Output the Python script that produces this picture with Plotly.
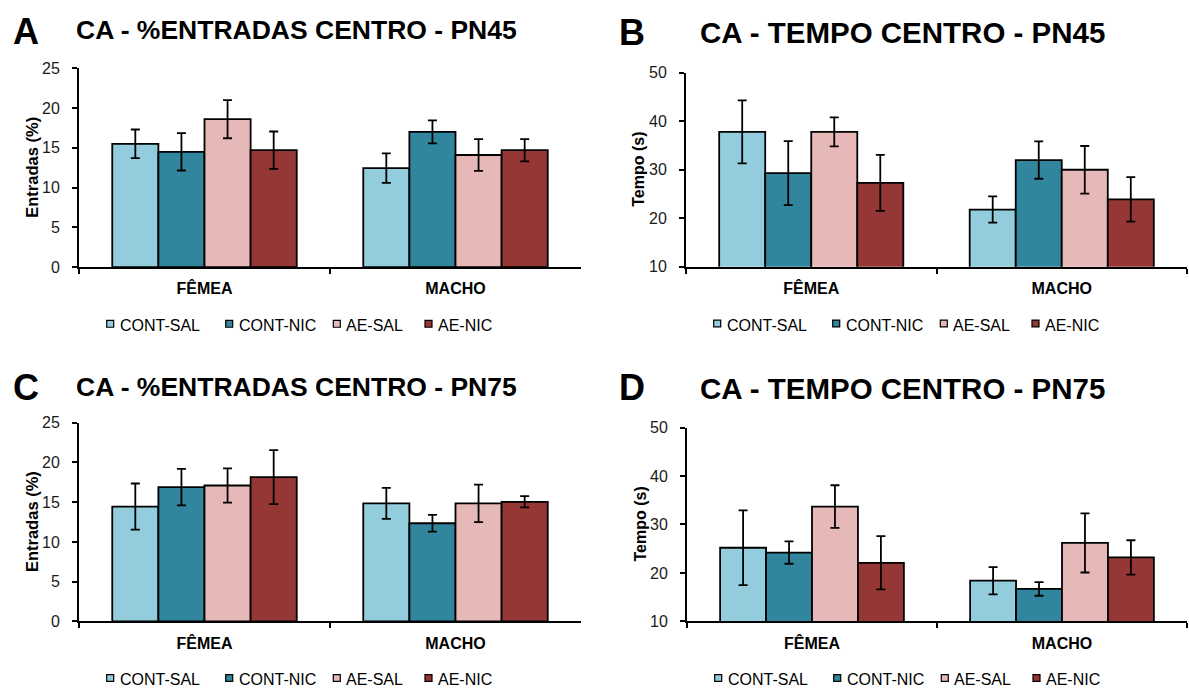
import plotly.graph_objects as go

W, H = 1189, 700
FONT = "Liberation Sans, Arial, sans-serif"

CATEGORIES = ["FÊMEA", "MACHO"]
SERIES = ["CONT-SAL", "CONT-NIC", "AE-SAL", "AE-NIC"]
COLORS = ["#93CDDD", "#31859C", "#E6B9B8", "#953735"]

# each row: one series, values for [FÊMEA, MACHO]
ENT45_MEAN = [[15.5, 12.45], [14.5, 17.0], [18.6, 14.1], [14.7, 14.7]]
ENT45_ERR = [[1.8, 1.85], [2.35, 1.45], [2.4, 2.0], [2.35, 1.4]]
TEMPO45_MEAN = [[37.8, 21.8], [29.3, 32.0], [37.8, 30.0], [27.3, 23.9]]
TEMPO45_ERR = [[6.5, 2.7], [6.6, 3.85], [3.0, 4.9], [5.75, 4.6]]
ENT75_MEAN = [[14.45, 14.85], [16.9, 12.35], [17.1, 14.85], [18.15, 15.05]]
ENT75_ERR = [[2.9, 1.95], [2.3, 1.05], [2.15, 2.35], [3.4, 0.7]]
TEMPO75_MEAN = [[25.2, 18.4], [24.2, 16.7], [33.7, 26.2], [22.1, 23.2]]
TEMPO75_ERR = [[7.7, 2.8], [2.3, 1.4], [4.4, 6.1], [5.5, 3.55]]

PANEL_LETTERS = ["A", "B", "C", "D"]
PANEL_TITLES = ["CA - %ENTRADAS CENTRO - PN45", "CA - TEMPO CENTRO - PN45",
                "CA - %ENTRADAS CENTRO - PN75", "CA - TEMPO CENTRO - PN75"]
Y_TITLES = ["Entradas (%)", "Tempo (s)", "Entradas (%)", "Tempo (s)"]
Y_RANGES = [[0, 25], [10, 50], [0, 25], [10, 50]]
Y_DTICKS = [5, 10, 5, 10]
MEANS = [ENT45_MEAN, TEMPO45_MEAN, ENT75_MEAN, TEMPO75_MEAN]
ERRS = [ENT45_ERR, TEMPO45_ERR, ENT75_ERR, TEMPO75_ERR]

# plot boxes in pixels: left, right, top, bottom
BOXES = [(79, 581, 61.7, 265.7), (686, 1187, 66.3, 265.3),
         (79, 581, 425, 628.7), (687, 1187, 430, 628.7)]
LETTER_POS = [(25.8, 23.7), (632, 25), (26, 388.5), (632, 388.5)]
TITLE_POS = [(74.4, 22.5, 26.5), (698, 25.5, 29.5), (74.4, 388.5, 26.5), (698, 389.5, 29.5)]
Y_TITLE_SIZE = [16.5, 16, 16.5, 16]
LEG_OFFSETS = [27.7, 146.7, 254.3, 346]


def px(x):
    return x / W


def py(y):
    return 1 - y / H


fig = go.Figure()
annotations = []
shapes = []
layout = {}

for p in range(4):
    sfx = "" if p == 0 else str(p + 1)
    xa, ya = "x" + sfx, "y" + sfx
    L, R, T, B = BOXES[p]
    for s, name in enumerate(SERIES):
        fig.add_trace(go.Bar(
            x=CATEGORIES, y=MEANS[p][s], name=name, showlegend=False,
            xaxis=xa, yaxis=ya,
            marker=dict(color=COLORS[s], line=dict(color="black", width=1.8)),
            error_y=dict(type="data", array=ERRS[p][s], visible=True,
                         color="black", thickness=1.8, width=4.5),
        ))
    layout["xaxis" + sfx] = dict(
        domain=[px(L), px(R)], anchor=ya, type="category",
        showline=True, linecolor="black", linewidth=1.8,
        ticks="outside", ticklen=5, tickwidth=1.5, tickcolor="black",
        tickson="boundaries", showgrid=False, zeroline=False,
        ticklabelstandoff=6,
        tickfont=dict(family=FONT, size=16, color="black", weight="bold"),
    )
    layout["yaxis" + sfx] = dict(
        domain=[py(B), py(T)], anchor=xa, range=Y_RANGES[p], dtick=Y_DTICKS[p],
        showline=True, linecolor="black", linewidth=1.8,
        ticks="outside", ticklen=5, tickwidth=1.5, tickcolor="black",
        showgrid=False, zeroline=False, ticklabelstandoff=9,
        tickfont=dict(family=FONT, size=16, color="#1a1a1a"),
    )
    # panel letter
    lx, ly = LETTER_POS[p]
    annotations.append(dict(x=px(lx), y=py(ly), xref="paper", yref="paper",
                            text="<b>%s</b>" % PANEL_LETTERS[p], showarrow=False,
                            xanchor="center", yanchor="middle",
                            font=dict(family=FONT, size=36, color="black")))
    tx, ty, ts = TITLE_POS[p]
    annotations.append(dict(x=px(tx), y=py(ty), xref="paper", yref="paper",
                            text="<b>%s</b>" % PANEL_TITLES[p], showarrow=False,
                            xanchor="left", yanchor="middle",
                            font=dict(family=FONT, size=ts, color="black")))
    # y-axis title
    annotations.append(dict(x=px(L - 47), y=py((T + B) / 2), xref="paper", yref="paper",
                            text="<b>%s</b>" % Y_TITLES[p], showarrow=False, textangle=-90,
                            xanchor="center", yanchor="middle",
                            font=dict(family=FONT, size=Y_TITLE_SIZE[p], color="black")))
    # legend (manual, square swatches)
    cy = B + 58
    for s, name in enumerate(SERIES):
        sx = L + LEG_OFFSETS[s]
        shapes.append(dict(type="rect", xref="paper", yref="paper",
                           x0=px(sx), x1=px(sx + 7), y0=py(cy + 3.5), y1=py(cy - 3.5),
                           fillcolor=COLORS[s], line=dict(color="black", width=1.2)))
        annotations.append(dict(x=px(sx + 11), y=py(cy + 2), xref="paper", yref="paper",
                                text=name, showarrow=False, xanchor="left", yanchor="middle",
                                font=dict(family=FONT, size=16, color="black")))

fig.update_layout(
    width=W, height=H, margin=dict(l=0, r=0, t=0, b=0),
    paper_bgcolor="white", plot_bgcolor="white",
    barmode="group", bargap=0.265, bargroupgap=0,
    annotations=annotations, shapes=shapes,
    font=dict(family=FONT),
    **layout,
)

fig.write_html("out.html")
